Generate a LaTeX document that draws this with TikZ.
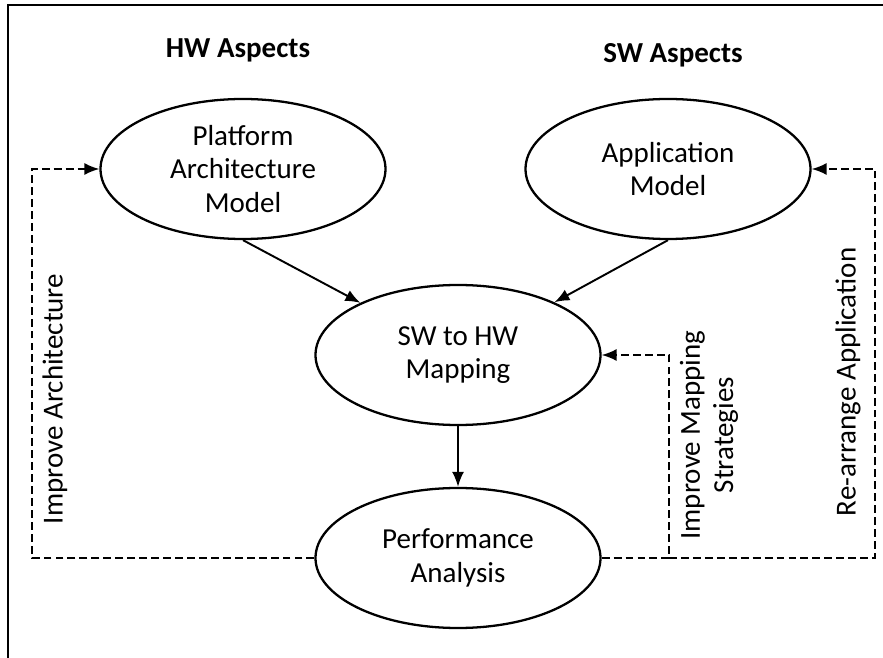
\documentclass[tikz,border=0pt]{standalone}
\usepackage{fontspec}
\setmainfont{Carlito}
\usetikzlibrary{shapes.geometric,arrows.meta}

\begin{document}
\begin{tikzpicture}[x=0.2mm, y=-0.2mm,
        elipse/.style={draw, ellipse, line width=1.3pt, minimum width=57mm, minimum height=28mm, inner sep=0pt, align=center},
        seta/.style={line width=1.1pt, -{Latex[length=3mm, width=2.4mm]}},
        tracejado/.style={line width=1pt, dash pattern=on 4.5pt off 2.3pt, -{Latex[length=3mm, width=2.4mm]}},
        rotulo/.style={rotate=90, align=center}]
        \useasboundingbox (0,0) rectangle (883,658);
        \fontsize{16.5}{19}\selectfont

        % Moldura (so topo e lado esquerdo)
        \draw[line width=1.2pt] (883,5) -- (8,5) -- (8,658);

        % Titulos
        \node[font=\bfseries] (hw) at (238,50) {HW Aspects};
        \node[font=\bfseries] (sw) at (673,55) {SW Aspects};

        % Elipses: {posicao/nome/texto}
        \foreach \pos/\nome/\txt in {{243,169}/plat/{Platform\\Architecture\\Model}, {668,169}/app/{Application\\Model}, {458,355}/map/{SW to HW\\Mapping}, {458,558}/perf/{Performance\\Analysis}} {
            \node[elipse] (\nome) at (\pos) {\txt};
        }

        % Setas principais
        \draw[seta] (plat.south) -- (map);
        \draw[seta] (app.south) -- (map);
        \draw[seta] (map.south) -- (perf.north);

        % Laços de realimentação
        \coordinate (esq) at (32,0);
        \coordinate (meio) at (669,0);
        \coordinate (dir) at (875,0);
        \draw[tracejado] (perf.west) -- (perf.west -| esq) |- (plat.west);
        \draw[tracejado] (perf.east) -- (perf.east -| meio) |- (map.east);
        \draw[tracejado] (perf.east -| meio) -- (perf.east -| dir) |- (app.east);

        % Rotulos verticais
        \node[rotulo] (lblarq) at (55,399) {Improve Architecture};
        \node[rotulo] (lblmap) at (709,435) {Improve Mapping\\Strategies};
        \node[rotulo] (lblapp) at (848,382) {Re-arrange Application};
    \end{tikzpicture}
\end{document}
